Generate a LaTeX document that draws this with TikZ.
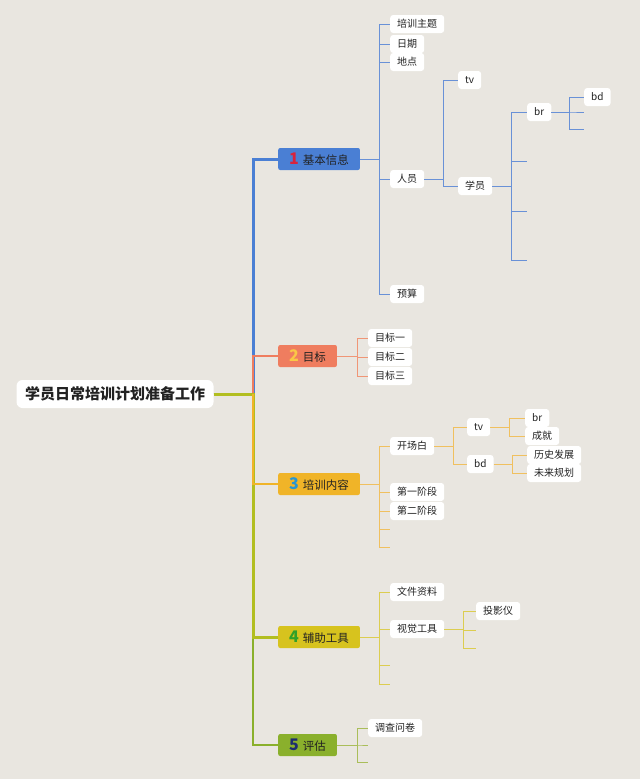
\documentclass[tikz,border=0pt]{standalone}
\usepackage{fontspec}
\newfontfamily\cjk{Noto Sans CJK SC}
\usetikzlibrary{positioning}
\definecolor{bg}{RGB}{233,230,224}
\definecolor{txt}{RGB}{34,34,34}
\definecolor{c1}{RGB}{74,127,212}
\definecolor{c2}{RGB}{239,125,95}
\definecolor{c3}{RGB}{240,180,40}
\definecolor{c4}{RGB}{215,195,30}
\definecolor{c5}{RGB}{138,176,44}
\definecolor{n1}{RGB}{216,35,60}
\definecolor{n2}{RGB}{250,200,70}
\definecolor{n3}{RGB}{40,150,210}
\definecolor{n4}{RGB}{50,160,40}
\definecolor{n5}{RGB}{30,45,110}
\definecolor{l1}{RGB}{105,145,215}
\definecolor{l2}{RGB}{240,150,118}
\definecolor{l3}{RGB}{240,192,95}
\definecolor{l4}{RGB}{220,205,80}
\definecolor{l5}{RGB}{170,190,90}
\definecolor{t4}{RGB}{178,190,32}
\newcommand\tnum[2]{{\fontsize{16}{16}\selectfont\bfseries\color{#1}#2}\hspace{4pt}}

\begin{document}
\begin{tikzpicture}[
  x=1pt, y=-1pt,
  every node/.style={font=\cjk\fontsize{10}{12}\selectfont, text=txt},
  root/.style={rectangle, rounded corners=6pt, fill=white, minimum width=197pt, minimum height=28pt, font=\cjk\bfseries\fontsize{15}{18}\selectfont},
  topic/.style={rectangle, rounded corners=2pt, anchor=west, minimum height=22pt, inner xsep=11pt, inner ysep=0pt, font=\cjk\fontsize{11.5}{13}\selectfont},
  leaf/.style={rectangle, rounded corners=3pt, fill=white, anchor=west, minimum height=18pt, inner xsep=7pt, inner ysep=1pt},
  trunk/.style={line width=3pt},
  thin/.style={line width=1.5pt},
  twig/.style={line width=1pt}
]
  \fill[bg] (0,0) rectangle (640,779);

  \node[root] (plan) at (115,394) {学员日常培训计划准备工作};
  \coordinate (hub) at (253,394);

  \node[topic, fill=c1] (info) at (278,159) {\tnum{n1}{1}基本信息};
  \node[topic, fill=c2] (goal) at (278,356) {\tnum{n2}{2}目标};
  \node[topic, fill=c3] (content) at (278,484) {\tnum{n3}{3}培训内容};
  \node[topic, fill=c4] (tools) at (278,637) {\tnum{n4}{4}辅助工具};
  \node[topic, fill=c5] (review) at (278,745) {\tnum{n5}{5}评估};

  \draw[trunk, c1] (plan.east) -- (hub) |- (info.west);
  \draw[thin, c2] (hub) |- (goal.west);
  \draw[thin, c5] (hub) |- (review.west);
  \draw[trunk, t4] (plan.east) -- (hub) |- (tools.west);
  \draw[thin, c3] (hub) |- (content.west);

  % 基本信息
  \node[leaf] (theme) at (390,24) {培训主题};
  \node[leaf] (date) at (390,44) {日期};
  \node[leaf] (place) at (390,62) {地点};
  \node[leaf] (staff) at (390,179) {人员};
  \node[leaf] (budget) at (390,294) {预算};
  \node[leaf] (tvA) at (458,80) {tv};
  \node[leaf] (trainee) at (458,186) {学员};
  \node[leaf] (brA) at (527,112) {br};
  \coordinate (e1) at (527,161);
  \coordinate (e2) at (527,211);
  \coordinate (e3) at (527,260);
  \node[leaf] (bdA) at (584,97) {bd};
  \coordinate (e4) at (584,112);
  \coordinate (e5) at (584,129);

  \foreach \c in {theme,date,place,staff,budget}
    \draw[twig, l1] (info.east) -- +(19,0) |- (\c.west);
  \foreach \c in {tvA,trainee}
    \draw[twig, l1] (staff.east) -- +(19,0) |- (\c.west);
  \foreach \c in {brA.west,e1,e2,e3}
    \draw[twig, l1] (trainee.east) -- +(19,0) |- (\c);
  \foreach \c in {bdA.west,e4,e5}
    \draw[twig, l1] (brA.east) -- +(18,0) |- (\c);

  % 目标
  \node[leaf] (goalA) at (368,338) {目标一};
  \node[leaf] (goalB) at (368,357) {目标二};
  \node[leaf] (goalC) at (368,376) {目标三};
  \foreach \c in {goalA,goalB,goalC}
    \draw[twig, l2] (goal.east) -- +(20,0) |- (\c.west);

  % 培训内容
  \node[leaf] (opening) at (390,446) {开场白};
  \node[leaf] (stageA) at (390,492) {第一阶段};
  \node[leaf] (stageB) at (390,511) {第二阶段};
  \coordinate (e6) at (390,529);
  \coordinate (e7) at (390,547);
  \node[leaf] (tvB) at (467,427) {tv};
  \node[leaf] (bdB) at (467,464) {bd};
  \node[leaf] (brB) at (525,418) {br};
  \node[leaf] (achieve) at (525,436) {成就};
  \node[leaf] (history) at (527,455) {历史发展};
  \node[leaf] (future) at (527,473) {未来规划};

  \foreach \c in {opening.west,stageA.west,stageB.west,e6,e7}
    \draw[twig, l3] (content.east) -- +(19,0) |- (\c);
  \foreach \c in {tvB,bdB}
    \draw[twig, l3] (opening.east) -- +(19,0) |- (\c.west);
  \foreach \c in {brB,achieve}
    \draw[twig, l3] (tvB.east) -- +(19,0) |- (\c.west);
  \foreach \c in {history,future}
    \draw[twig, l3] (bdB.east) -- +(19,0) |- (\c.west);

  % 辅助工具
  \node[leaf] (docs) at (390,592) {文件资料};
  \node[leaf] (visual) at (390,629) {视觉工具};
  \coordinate (e8) at (390,665);
  \coordinate (e9) at (390,684);
  \node[leaf] (projector) at (476,611) {投影仪};
  \coordinate (e10) at (476,630);
  \coordinate (e11) at (476,648);

  \foreach \c in {docs.west,visual.west,e8,e9}
    \draw[twig, l4] (tools.east) -- +(19,0) |- (\c);
  \foreach \c in {projector.west,e10,e11}
    \draw[twig, l4] (visual.east) -- +(19,0) |- (\c);

  % 评估
  \node[leaf] (survey) at (368,728) {调查问卷};
  \coordinate (e12) at (368,745);
  \coordinate (e13) at (368,762);
  \foreach \c in {survey.west,e12,e13}
    \draw[twig, l5] (review.east) -- +(20,0) |- (\c);
\end{tikzpicture}
\end{document}
